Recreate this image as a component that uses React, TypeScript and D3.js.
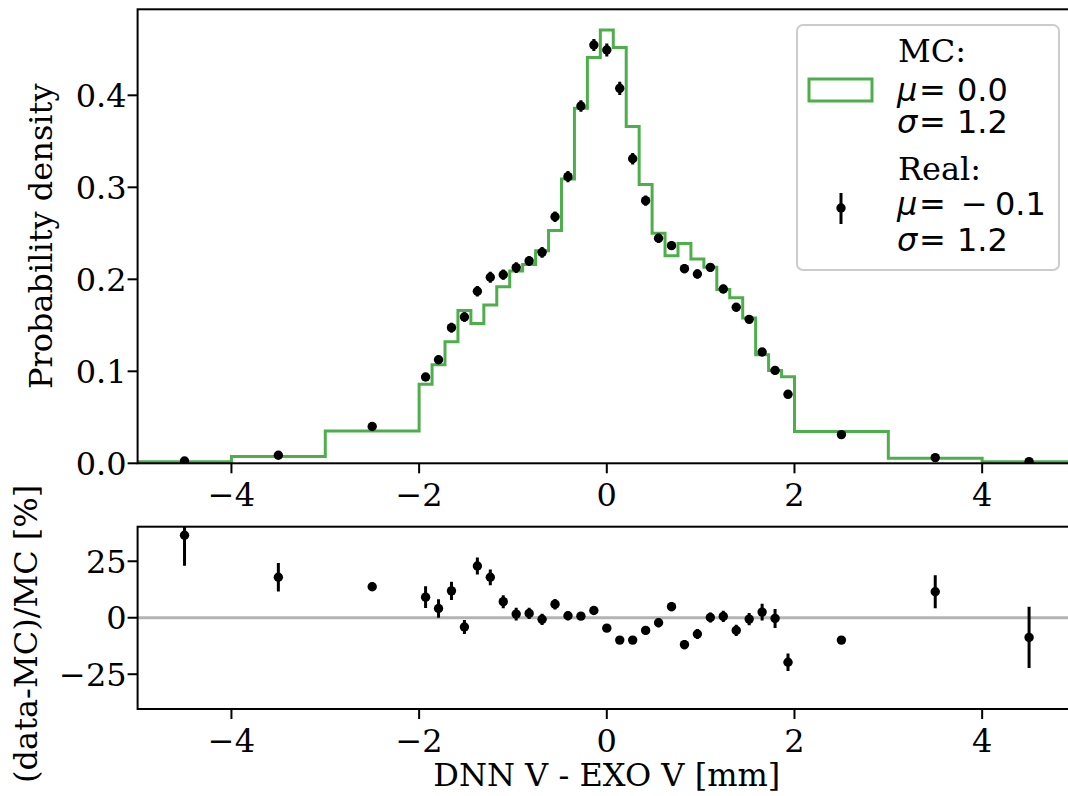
import React from "react";
import * as d3 from "d3";

// ---------- data ----------
const outerLeftEdges = [-5, -4, -3, -2];
const fineEdges = d3.range(1, 29).map((k) => -2 + (4 * k) / 29);
const outerRightEdges = [2, 3, 4, 5];
const binEdges = [...outerLeftEdges, ...fineEdges, ...outerRightEdges];

const mcDensity = [
  0.0018, 0.0075, 0.0352, 0.086, 0.107, 0.132, 0.166, 0.152, 0.172, 0.192,
  0.209, 0.216, 0.231, 0.253, 0.309, 0.386, 0.441, 0.471, 0.452, 0.366, 0.303,
  0.25, 0.2255, 0.239, 0.222, 0.213, 0.189, 0.18, 0.158, 0.118, 0.101, 0.094,
  0.0346, 0.0056, 0.0018,
];
const realDensity = [
  0.0025, 0.0087, 0.04, 0.0938, 0.1126, 0.1474, 0.159, 0.187, 0.2022, 0.205,
  0.2127, 0.22, 0.2293, 0.268, 0.3116, 0.3884, 0.4547, 0.4493, 0.4076, 0.331,
  0.2855, 0.2446, 0.2366, 0.2116, 0.2058, 0.213, 0.1895, 0.1696, 0.1565, 0.121,
  0.101, 0.075, 0.0312, 0.0062, 0.0018,
];
const realErr = [
  0.0002, 0.0005, 0.0006, 0.0041, 0.0044, 0.0053, 0.0051, 0.0058, 0.006,
  0.0056, 0.0059, 0.0054, 0.0058, 0.0058, 0.0062, 0.0062, 0.0066, 0.0071,
  0.0072, 0.0062, 0.0055, 0.005, 0.0045, 0.005, 0.0049, 0.0047, 0.0047, 0.0045,
  0.0043, 0.0043, 0.0042, 0.0037, 0.0005, 0.0004, 0.0002,
];
const ratioPct = [
  36.5, 17.9, 13.7, 9.1, 4.1, 11.9, -4.1, 22.9, 17.9, 7.1, 1.6, 1.9, -0.7, 6.0,
  0.9, 0.7, 3.2, -4.6, -9.9, -9.9, -5.6, -2.2, 4.9, -11.9, -7.2, 0.1, 0.6, -5.6,
  -0.6, 2.5, -0.3, -19.7, -9.9, 11.5, -8.7,
];
const ratioErr = [
  13.5, 6.3, 1.8, 4.8, 4.1, 4.0, 3.1, 3.8, 3.5, 2.9, 2.8, 2.5, 2.5, 2.3, 2.0,
  1.6, 1.5, 1.5, 1.6, 1.7, 1.8, 2.0, 2.0, 2.1, 2.2, 2.2, 2.5, 2.5, 2.7, 3.7,
  4.2, 3.9, 1.5, 7.3, 13.6,
];

const xTicks = [-4, -2, 0, 2, 4];
const yTopTicks = [0, 0.1, 0.2, 0.3, 0.4];
const yBotTicks = [-25, 0, 25];

const xDomain: [number, number] = [-5, 5];
const yTopDomain: [number, number] = [0, 0.4935];
const yBotDomain: [number, number] = [-40.4, 40.3];

const mcLegend = ["MC:", "0.0", "1.2"];
const realLegend = ["Real:", "0.1", "1.2"];

const xLabel = "DNN V - EXO V [mm]";
const yTopLabel = "Probability density";
const yBotLabel = "(data-MC)/MC [%]";

// ---------- style ----------
const GREEN = "#4daf4a";
const SERIF = "DejaVu Serif";
const SANS = "DejaVu Sans";
const FS = 32;

const W = 1068;
const H = 796;
const L = 137.6;
const R = 1076;
const TOP1 = 9.3;
const BOT1 = 463.3;
const TOP2 = 526.7;
const BOT2 = 709;

const fmtMinus = (s: string) => s.replace("-", "\u2212");

export default function App() {
  const x = d3.scaleLinear().domain(xDomain).range([L, R]);
  const yT = d3.scaleLinear().domain(yTopDomain).range([BOT1, TOP1]);
  const yB = d3.scaleLinear().domain(yBotDomain).range([BOT2, TOP2]);

  const centers = binEdges.slice(0, -1).map((e, i) => (e + binEdges[i + 1]) / 2);

  let stepPath = `M${x(binEdges[0])},${yT(0)}`;
  mcDensity.forEach((v, i) => {
    stepPath += `L${x(binEdges[i])},${yT(v)}L${x(binEdges[i + 1])},${yT(v)}`;
  });
  stepPath += `L${x(binEdges[binEdges.length - 1])},${yT(0)}`;

  const tickLen = 10;
  const tickW = 2;
  const dotR = 4.7;

  const legX = 897;
  const eqX = 919;
  const valX = 957;

  return (
    <div style={{ position: "absolute", left: 0, top: 0 }}>
      <svg width={W} height={H} style={{ display: "block", background: "#fff" }}>
        <defs>
          <clipPath id="clipTop">
            <rect x={L} y={TOP1} width={R - L} height={BOT1 - TOP1} />
          </clipPath>
          <clipPath id="clipBot">
            <rect x={L} y={TOP2} width={R - L} height={BOT2 - TOP2} />
          </clipPath>
        </defs>
        <rect x={0} y={0} width={W} height={H} fill="#fff" />

        {/* ---------- TOP PANEL ---------- */}
        <g clipPath="url(#clipTop)">
          <path d={stepPath} fill="none" stroke={GREEN} strokeWidth={3} strokeLinejoin="miter" />
          {centers.map((c, i) => (
            <g key={i}>
              <line
                x1={x(c)}
                x2={x(c)}
                y1={yT(realDensity[i] - realErr[i])}
                y2={yT(realDensity[i] + realErr[i])}
                stroke="#000"
                strokeWidth={3}
              />
              <circle cx={x(c)} cy={yT(realDensity[i])} r={dotR} fill="#000" />
            </g>
          ))}
        </g>
        <rect x={L} y={TOP1} width={R - L} height={BOT1 - TOP1} fill="none" stroke="#000" strokeWidth={2} />
        {xTicks.map((t) => (
          <g key={t}>
            <line x1={x(t)} x2={x(t)} y1={BOT1} y2={BOT1 + tickLen} stroke="#000" strokeWidth={tickW} />
            <text x={x(t)} y={BOT1 + 42.4} textAnchor="middle" fontFamily={SERIF} fontSize={FS}>
              {fmtMinus(String(t))}
            </text>
          </g>
        ))}
        {yTopTicks.map((t) => (
          <g key={t}>
            <line x1={L - tickLen} x2={L} y1={yT(t)} y2={yT(t)} stroke="#000" strokeWidth={tickW} />
            <text x={L - 11} y={yT(t) + 11.5} textAnchor="end" fontFamily={SERIF} fontSize={FS}>
              {d3.format(".1f")(t)}
            </text>
          </g>
        ))}
        <text
          transform={`translate(52,${(TOP1 + BOT1) / 2}) rotate(-90)`}
          textAnchor="middle"
          fontFamily={SERIF}
          fontSize={FS}
        >
          {yTopLabel}
        </text>

        {/* legend */}
        <rect x={797} y={25} width={262} height={245} rx={6} fill="#fff" fillOpacity={0.8} stroke="#cccccc" strokeWidth={2} />
        <rect x={809} y={79} width={63} height={22} fill="none" stroke={GREEN} strokeWidth={3} />
        <line x1={841} x2={841} y1={193} y2={224} stroke="#000" strokeWidth={3} />
        <circle cx={841} cy={208} r={dotR} fill="#000" />
        <g fontSize={FS}>
          <text x={legX + 1} y={61.7} fontFamily={SERIF}>{mcLegend[0]}</text>
          <text x={legX} y={101} fontFamily={SANS} fontStyle="italic">μ</text>
          <text x={eqX} y={101} fontFamily={SANS}>=</text>
          <text x={valX} y={101} fontFamily={SANS}>{mcLegend[1]}</text>
          <text x={legX} y={133} fontFamily={SANS} fontStyle="italic">σ</text>
          <text x={eqX} y={133} fontFamily={SANS}>=</text>
          <text x={valX} y={133} fontFamily={SANS}>{mcLegend[2]}</text>

          <text x={legX + 1} y={180} fontFamily={SERIF}>{realLegend[0]}</text>
          <text x={legX} y={215} fontFamily={SANS} fontStyle="italic">μ</text>
          <text x={eqX} y={215} fontFamily={SANS}>=</text>
          <text x={valX + 4} y={215} fontFamily={SANS}>{"\u2212"}</text>
          <text x={valX + 38} y={215} fontFamily={SANS}>{realLegend[1]}</text>
          <text x={legX} y={251} fontFamily={SANS} fontStyle="italic">σ</text>
          <text x={eqX} y={251} fontFamily={SANS}>=</text>
          <text x={valX} y={251} fontFamily={SANS}>{realLegend[2]}</text>
        </g>

        {/* ---------- BOTTOM PANEL ---------- */}
        <g clipPath="url(#clipBot)">
          <line x1={L} x2={R} y1={yB(0)} y2={yB(0)} stroke="#b3b3b3" strokeWidth={3} />
          {centers.map((c, i) => (
            <g key={i}>
              <line
                x1={x(c)}
                x2={x(c)}
                y1={yB(ratioPct[i] - ratioErr[i])}
                y2={yB(ratioPct[i] + ratioErr[i])}
                stroke="#000"
                strokeWidth={3}
              />
              <circle cx={x(c)} cy={yB(ratioPct[i])} r={dotR} fill="#000" />
            </g>
          ))}
        </g>
        <rect x={L} y={TOP2} width={R - L} height={BOT2 - TOP2} fill="none" stroke="#000" strokeWidth={2} />
        {xTicks.map((t) => (
          <g key={t}>
            <line x1={x(t)} x2={x(t)} y1={BOT2} y2={BOT2 + tickLen} stroke="#000" strokeWidth={tickW} />
            <text x={x(t)} y={BOT2 + 42.7} textAnchor="middle" fontFamily={SERIF} fontSize={FS}>
              {fmtMinus(String(t))}
            </text>
          </g>
        ))}
        {yBotTicks.map((t) => (
          <g key={t}>
            <line x1={L - tickLen} x2={L} y1={yB(t)} y2={yB(t)} stroke="#000" strokeWidth={tickW} />
            <text x={L - 11} y={yB(t) + 11.5} textAnchor="end" fontFamily={SERIF} fontSize={FS}>
              {fmtMinus(String(t))}
            </text>
          </g>
        ))}
        <text
          transform={`translate(37,${(TOP2 + BOT2) / 2 + 16}) rotate(-90)`}
          textAnchor="middle"
          fontFamily={SERIF}
          fontSize={FS}
        >
          {yBotLabel}
        </text>
        <text x={(L + R) / 2} y={786} textAnchor="middle" fontFamily={SERIF} fontSize={FS}>
          {xLabel}
        </text>
      </svg>
    </div>
  );
}
